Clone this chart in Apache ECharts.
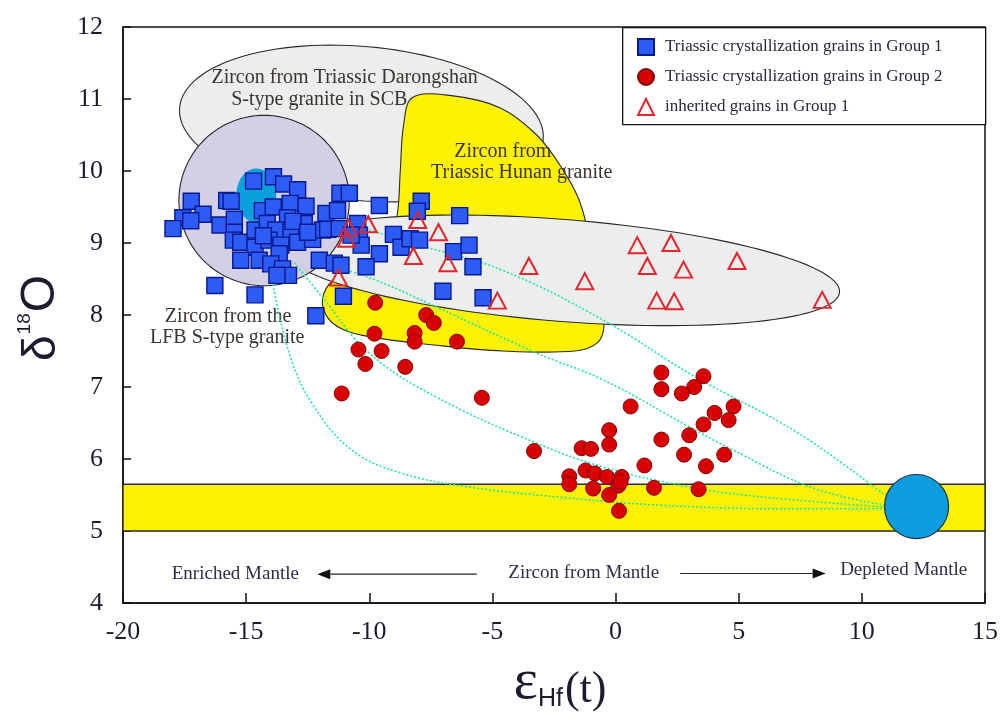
<!DOCTYPE html>
<html>
<head>
<meta charset="utf-8">
<script src="https://cdn.jsdelivr.net/npm/echarts@6/dist/echarts.min.js"></script>
<style>
  html, body { margin: 0; padding: 0; background: #ffffff; }
  #chart { width: 1000px; height: 713px; }
</style>
</head>
<body>
<div id="chart"></div>
<script>
// ---- axis ticks ----
const xTicks = [-20, -15, -10, -5, 0, 5, 10, 15];
const yTicks = [4, 5, 6, 7, 8, 9, 10, 11, 12];

// ---- zircon analyses: [εHf(t), δ18O] ----
const group1Crystallization = [
  [-15.79, 9.59], [-14.70, 9.86], [-13.89, 9.92], [-13.48, 9.82], [-12.91, 9.74],
  [-17.23, 9.58], [-15.61, 9.58], [-16.75, 9.40], [-17.57, 9.35], [-17.25, 9.31],
  [-17.97, 9.20], [-16.06, 9.25], [-15.48, 9.33], [-15.48, 9.15], [-15.52, 9.04],
  [-15.22, 9.01], [-14.64, 9.18], [-14.34, 9.45], [-13.90, 9.50], [-13.21, 9.55],
  [-12.57, 9.51], [-13.32, 9.35], [-12.64, 9.27], [-14.14, 9.27], [-13.79, 9.18],
  [-13.18, 9.15], [-12.91, 9.01], [-12.30, 9.05], [-11.90, 9.18], [-14.64, 8.94],
  [-14.07, 9.04], [-13.59, 8.97], [-13.66, 8.85], [-15.22, 8.76], [-14.47, 8.76],
  [-14.00, 8.71], [-13.52, 8.64], [-13.28, 8.55], [-13.75, 8.55], [-12.03, 8.76],
  [-16.27, 8.41], [-14.64, 8.28], [-12.17, 7.99], [-11.19, 9.69], [-10.81, 9.69],
  [-9.59, 9.52], [-7.89, 9.58], [-8.05, 9.44], [-6.33, 9.38], [-11.76, 9.41],
  [-11.29, 9.45], [-11.69, 9.19], [-10.47, 9.27], [-10.40, 9.11], [-10.33, 8.97],
  [-11.22, 9.20], [-10.74, 9.11], [-9.02, 9.12], [-8.71, 8.94], [-8.34, 9.06],
  [-7.96, 9.04], [-9.59, 8.85], [-6.58, 8.88], [-5.95, 8.97], [-5.79, 8.67],
  [-10.13, 8.67], [-11.42, 8.72], [-11.15, 8.69], [-7.01, 8.33], [-5.38, 8.24],
  [-11.05, 8.26], [-14.30, 9.10], [-13.10, 9.30], [-12.50, 9.15]
];

const group2Crystallization = [
  [-9.76, 8.17], [-7.69, 8.00], [-7.38, 7.89], [-9.79, 7.74], [-8.16, 7.75],
  [-8.16, 7.63], [-6.44, 7.63], [-10.44, 7.52], [-9.50, 7.50], [-10.16, 7.32],
  [-8.54, 7.28], [-11.12, 6.91], [-5.43, 6.85], [1.86, 7.20], [3.57, 7.15],
  [1.86, 6.97], [3.19, 7.00], [2.69, 6.91], [0.61, 6.73], [4.79, 6.73],
  [4.02, 6.64], [4.59, 6.54], [3.57, 6.48], [-0.26, 6.40], [2.99, 6.33],
  [1.86, 6.27], [-0.26, 6.20], [-1.38, 6.15], [-1.00, 6.14], [-3.31, 6.11],
  [2.78, 6.06], [4.41, 6.06], [1.17, 5.91], [3.67, 5.90], [-1.22, 5.84],
  [-0.84, 5.80], [-1.88, 5.76], [-0.34, 5.75], [0.25, 5.75], [-1.88, 5.65],
  [0.11, 5.63], [-0.91, 5.59], [1.56, 5.60], [3.37, 5.58], [-0.26, 5.50],
  [0.14, 5.28], [0.20, 5.68]
];

const group1Inherited = [
  [-10.84, 9.21], [-10.04, 9.26], [-10.92, 9.06], [-8.03, 9.32], [-7.19, 9.15],
  [-8.21, 8.82], [-6.81, 8.72], [-11.25, 8.52], [-4.80, 8.20], [-3.52, 8.68],
  [-1.25, 8.47], [0.88, 8.97], [2.25, 9.00], [1.29, 8.68], [2.76, 8.63],
  [4.93, 8.75], [1.67, 8.20], [2.38, 8.19], [8.39, 8.21]
];

// ---- crust–mantle mixing curves ----
const mixingCurveA = [[-13.94, 8.48], [-13.25, 7.47], [-12.32, 6.77], [-10.69, 6.12], [-8.65, 5.80], [-5.92, 5.61], [-2.26, 5.47], [1.77, 5.36], [6.69, 5.31], [11.5, 5.31]];
const mixingCurveB = [[-13.05, 8.73], [-11.91, 8.25], [-10.0, 7.47], [-7.27, 6.86], [-3.20, 6.22], [-0.51, 5.89], [3.03, 5.61], [6.04, 5.47], [11.5, 5.32]];
const mixingCurveC = [[-12.03, 8.72], [-10.0, 8.52], [-7.27, 8.11], [-3.20, 7.47], [-0.51, 7.10], [3.03, 6.44], [4.62, 6.15], [8.16, 5.58], [11.5, 5.33]];
const mixingCurveD = [[-10.0, 9.18], [-7.96, 8.97], [-4.58, 8.62], [-0.51, 7.93], [3.19, 7.15], [7.46, 6.35], [11.5, 5.35]];

// ---- mantle reference values ----
const mantleZirconRange = [5.0, 5.65];   // δ18O of mantle zircon
const depletedMantle = [12.22, 5.34];     // εHf(t), δ18O

// ---- outline geometry of the comparison fields (axis units) ----
const fieldGeometry = {
  darongshan: { center: [-10.32, 10.66], rx: 7.41, ry: 1.07, rot: 5 },
  lfbCircle: { center: [-14.27, 9.59], r: 3.46 },
  lfbCore: { center: [-14.59, 9.66], rx: 0.81, ry: 0.375, rot: 0 },
  inherited: { center: [-2.18, 8.62], rx: 11.31, ry: 0.708, rot: 4.5 },
  hunan: [
    [-8.25, 11.02], [-6.74, 11.05], [-4.70, 10.88], [-3.20, 10.50], [-2.18, 10.04],
    [-1.45, 9.57], [-0.96, 8.90], [-0.63, 8.27], [-0.47, 7.86], [-0.72, 7.62],
    [-1.65, 7.50], [-4.58, 7.50], [-7.27, 7.58], [-10.0, 7.70], [-11.30, 7.84],
    [-11.87, 8.09], [-11.75, 8.37], [-11.01, 8.62], [-9.18, 9.04], [-8.86, 9.41],
    [-8.74, 10.01], [-8.61, 10.63]
  ],
  depletedMantleR: 1.30
};

const fieldLabels = [
  { lines: [['Zircon from Triassic Darongshan', -11.0, 11.30], ['S-type granite in SCB', -12.03, 10.99]] },
  { lines: [['Zircon from', -4.58, 10.27], ['Triassic Hunan granite', -3.81, 9.97]] },
  { lines: [['Zircon from the', -15.73, 7.98], ['LFB S-type granite', -15.77, 7.69]] }
];

const mantleNotes = [
  ['Enriched Mantle', -15.44, 4.40],
  ['Zircon from Mantle', -1.29, 4.41],
  ['Depleted Mantle', 11.70, 4.46]
];
const mantleArrows = [
  { from: [-5.64, 4.40], to: [-12.11, 4.40] },
  { from: [2.62, 4.41], to: [8.53, 4.41] }
];

const SERIF = '"Liberation Serif", "Times New Roman", serif';
const SANS = '"Liberation Sans", Arial, sans-serif';
const LABEL_INK = '#3a3530';
const EDGE = '#2a2a2a';

function ellipsePoints(api, g) {
  const c = api.coord(g.center);
  const rx = g.r != null ? api.size([g.r, 0])[0] : api.size([g.rx, 0])[0];
  const ry = g.r != null ? rx : api.size([0, g.ry])[1];
  const a = (g.rot || 0) * Math.PI / 180, cs = Math.cos(a), sn = Math.sin(a);
  const pts = [];
  for (let i = 0; i < 120; i++) {
    const t = i / 120 * Math.PI * 2;
    const u = rx * Math.cos(t), v = ry * Math.sin(t);
    pts.push([c[0] + u * cs - v * sn, c[1] + u * sn + v * cs]);
  }
  return pts;
}

function labelEls(api, lab) {
  return lab.lines.map(function (l) {
    const p = api.coord([l[1], l[2]]);
    return {
      type: 'text', x: p[0], y: p[1],
      style: { text: l[0], fill: LABEL_INK, fontFamily: SERIF, fontSize: 20,
               align: 'center', verticalAlign: 'middle' }
    };
  });
}

function renderFields(params, api) {
  const kids = [];
  kids.push({ type: 'polygon', shape: { points: ellipsePoints(api, fieldGeometry.darongshan) },
              style: { fill: '#ecedec', stroke: EDGE, lineWidth: 1.1 } });
  kids.push.apply(kids, labelEls(api, fieldLabels[0]));
  kids.push({ type: 'polygon', shape: { points: fieldGeometry.hunan.map(function (p) { return api.coord(p); }), smooth: 0.35 },
              style: { fill: '#fff200', stroke: EDGE, lineWidth: 1.1 } });
  kids.push({ type: 'polygon', shape: { points: ellipsePoints(api, fieldGeometry.inherited) },
              style: { fill: '#eceeee', stroke: EDGE, lineWidth: 1.1 } });
  kids.push({ type: 'polygon', shape: { points: ellipsePoints(api, fieldGeometry.lfbCircle) },
              style: { fill: '#d3d0e6', stroke: EDGE, lineWidth: 1.1 } });
  kids.push({ type: 'polygon', shape: { points: ellipsePoints(api, fieldGeometry.lfbCore) },
              style: { fill: '#0aa0dc', stroke: 'none' } });
  kids.push.apply(kids, labelEls(api, fieldLabels[1]));
  kids.push.apply(kids, labelEls(api, fieldLabels[2]));
  return { type: 'group', children: kids };
}

function renderMantleBand(params, api) {
  const p0 = api.coord([xTicks[0], mantleZirconRange[1]]);
  const p1 = api.coord([xTicks[xTicks.length - 1], mantleZirconRange[0]]);
  return { type: 'rect', shape: { x: p0[0], y: p0[1], width: p1[0] - p0[0], height: p1[1] - p0[1] },
           style: { fill: '#fff200', stroke: EDGE, lineWidth: 1.4 } };
}

function renderDepletedMantle(params, api) {
  const c = api.coord(depletedMantle);
  const r = api.size([fieldGeometry.depletedMantleR, 0])[0];
  return { type: 'circle', shape: { cx: c[0], cy: c[1], r: r },
           style: { fill: '#0b9de0', stroke: '#203040', lineWidth: 1.2 } };
}

function renderNotes(params, api) {
  const kids = [];
  mantleNotes.forEach(function (n) {
    const p = api.coord([n[1], n[2]]);
    kids.push({ type: 'text', x: p[0], y: p[1],
      style: { text: n[0], fill: '#2f2d45', fontFamily: SERIF, fontSize: 19, align: 'center', verticalAlign: 'middle' } });
  });
  mantleArrows.forEach(function (a) {
    const p0 = api.coord(a.from), p1 = api.coord(a.to);
    const dir = p1[0] > p0[0] ? 1 : -1;
    const hl = 13, hw = 5;
    kids.push({ type: 'line', shape: { x1: p0[0], y1: p0[1], x2: p1[0] - dir * hl, y2: p1[1] },
                style: { stroke: '#222', lineWidth: 1.2 } });
    kids.push({ type: 'polygon', shape: { points: [[p1[0], p1[1]], [p1[0] - dir * hl, p1[1] - hw], [p1[0] - dir * hl, p1[1] + hw]] },
                style: { fill: '#111', stroke: 'none' } });
  });
  return { type: 'group', children: kids };
}

function curveSeries(data) {
  return {
    type: 'line', data: data, smooth: 0.4, symbol: 'none', silent: true, z: 3,
    lineStyle: { color: '#22e49a', width: 1.6, type: [2, 2] }
  };
}

const chart = echarts.init(document.getElementById('chart'));
chart.setOption({
  animation: false,
  backgroundColor: '#ffffff',
  grid: { left: 123, right: 15, top: 27, bottom: 110, containLabel: false, outerBoundsMode: 'none',
          show: true, borderColor: '#111', borderWidth: 1.5, backgroundColor: 'transparent' },
  xAxis: {
    type: 'value', min: xTicks[0], max: xTicks[xTicks.length - 1], interval: 5,
    axisLine: { show: true, onZero: false, lineStyle: { color: '#111', width: 1.5 } },
    axisTick: { show: true, inside: true, length: 10, lineStyle: { color: '#111', width: 1.5 } },
    axisLabel: { show: true, margin: 16, fontFamily: SERIF, fontSize: 26, color: '#1e1b30',
                 showMinLabel: true, showMaxLabel: true },
    splitLine: { show: false }
  },
  yAxis: {
    type: 'value', min: yTicks[0], max: yTicks[yTicks.length - 1], interval: 1,
    axisLine: { show: true, onZero: false, lineStyle: { color: '#111', width: 1.5 } },
    axisTick: { show: true, inside: true, length: 8, lineStyle: { color: '#111', width: 1.5 } },
    axisLabel: { show: true, margin: 20, fontFamily: SERIF, fontSize: 26, color: '#1e1b30',
                 showMinLabel: true, showMaxLabel: true },
    splitLine: { show: false }
  },
  legend: {
    data: ['Triassic crystallization grains in Group 1', 'Triassic crystallization grains in Group 2', 'inherited grains in Group 1'],
    orient: 'vertical', left: 637, top: 38, padding: 0, itemGap: 12,
    itemWidth: 16, itemHeight: 16, z: 10,
    textStyle: { fontFamily: SERIF, fontSize: 17, color: '#2b2838', padding: [0, 0, 0, 6] }
  },
  graphic: [
    { type: 'rect', left: 622, top: 27, shape: { width: 363, height: 97 }, z: 9,
      style: { fill: '#ffffff', stroke: '#111', lineWidth: 1.3 } },
    { type: 'text', x: 40, y: 318, rotation: Math.PI / 2, z: 10,
      style: { text: '{d|δ}{s|18}{o|O}', align: 'center', verticalAlign: 'middle',
        rich: {
          d: { fontFamily: SANS, fontSize: 46, fill: '#1e1b30', verticalAlign: 'bottom', lineHeight: 50 },
          s: { fontFamily: SANS, fontSize: 19, fill: '#1e1b30', verticalAlign: 'top', lineHeight: 50, padding: [0, 1, 22, 1] },
          o: { fontFamily: SANS, fontSize: 48, fill: '#1e1b30', verticalAlign: 'bottom', lineHeight: 50 }
        } } },
    { type: 'text', x: 560, y: 684, z: 10,
      style: { text: '{e|ε}{h|Hf}{t|(t)}', align: 'center', verticalAlign: 'middle',
        rich: {
          e: { fontFamily: SERIF, fontSize: 58, fill: '#1e1b30', verticalAlign: 'bottom', lineHeight: 56 },
          h: { fontFamily: SANS, fontSize: 25, fill: '#1e1b30', verticalAlign: 'bottom', lineHeight: 56, padding: [0, 2, 0, 0] },
          t: { fontFamily: SERIF, fontSize: 44, fill: '#1e1b30', verticalAlign: 'bottom', lineHeight: 56 }
        } } }
  ],
  series: [
    { type: 'custom', name: 'fields', renderItem: renderFields, data: [[0, 0]], silent: true, z: 1 },
    { type: 'custom', name: 'mantle zircon', renderItem: renderMantleBand, data: [[0, 0]], silent: true, z: 2 },
    curveSeries(mixingCurveA),
    curveSeries(mixingCurveB),
    curveSeries(mixingCurveC),
    curveSeries(mixingCurveD),
    { type: 'custom', name: 'depleted mantle', renderItem: renderDepletedMantle, data: [[0, 0]], silent: true, z: 4 },
    { type: 'custom', name: 'notes', renderItem: renderNotes, data: [[0, 0]], silent: true, z: 4 },
    { type: 'scatter', name: 'Triassic crystallization grains in Group 1', data: group1Crystallization,
      symbol: 'rect', symbolSize: 16, z: 5,
      itemStyle: { color: '#2c5cf4', borderColor: '#0a1890', borderWidth: 1.4, opacity: 1 } },
    { type: 'scatter', name: 'Triassic crystallization grains in Group 2', data: group2Crystallization,
      symbol: 'circle', symbolSize: 15, z: 5,
      itemStyle: { color: '#d80000', borderColor: '#7a0a0a', borderWidth: 1, opacity: 1 } },
    { type: 'scatter', name: 'inherited grains in Group 1', data: group1Inherited,
      symbol: 'triangle', symbolSize: [17, 16], z: 6,
      itemStyle: { color: 'rgba(255,255,255,0)', borderColor: '#e3262e', borderWidth: 2, opacity: 1 } }
  ]
});
</script>
</body>
</html>
